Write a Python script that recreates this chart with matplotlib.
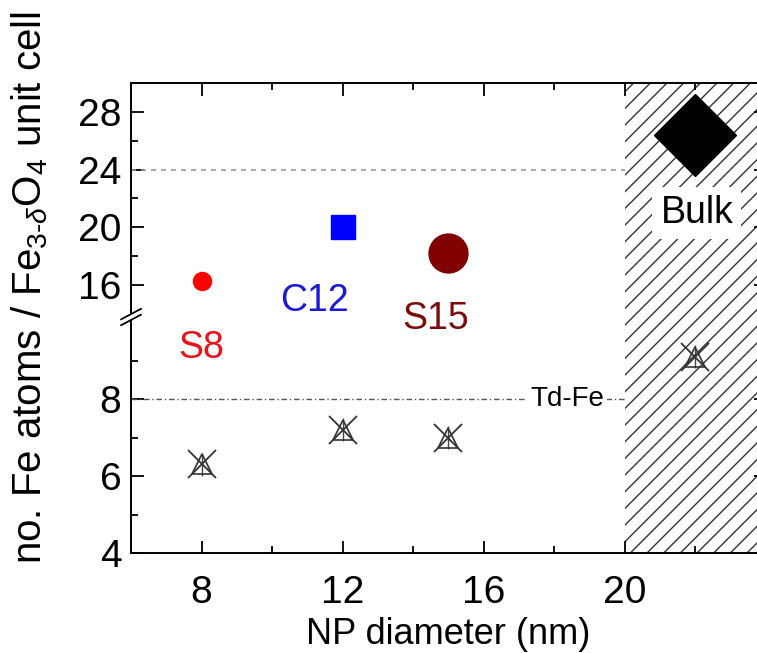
import matplotlib
matplotlib.use('Agg')
import matplotlib.pyplot as plt
from matplotlib.lines import Line2D
from matplotlib.patches import Polygon

plt.rcParams['font.family'] = ['Liberation Sans', 'DejaVu Sans']
plt.rcParams['mathtext.fontset'] = 'custom'
plt.rcParams['mathtext.rm'] = 'Liberation Sans'
plt.rcParams['mathtext.it'] = 'Liberation Sans:italic'
plt.rcParams['hatch.linewidth'] = 1.0

# total Fe per unit cell for each sample
samples = ['S8', 'C12', 'S15', 'Bulk']
diameter = [8, 12, 15, 22]
fe_total = [16.3, 20.0, 18.2, 26.4]

# tetrahedral Fe per unit cell (crossed triangles)
fe_td = [6.3, 7.2, 7.0, 9.1]
fe_td_err = [0.3, 0.3, 0.3, 0.3]

fe_stoich = 24   # Fe3O4 unit cell
td_stoich = 8    # tetrahedral sites
bulk_from = 20

# marker styles
colors = ['#ff0000', '#0000ff', '#800000', '#000000']
markers = ['o', 's', 'o', 'D']
msizes = [13, 17, 28, 42]
label_colors = ['#e8141c', '#1a1ad8', '#7a0c0c', 'black']

fig = plt.figure(figsize=(7.57, 6.53), dpi=100)
ax_hi = fig.add_axes([0.1731, 0.5145, 0.8382, 0.3584])
ax_lo = fig.add_axes([0.1731, 0.1531, 0.8382, 0.3614], sharex=ax_hi)

for ax in (ax_hi, ax_lo):
    ax.patch.set_visible(False)
    ax.axvspan(bulk_from, 24, facecolor='white', edgecolor='#333333',
               hatch='//', lw=0, zorder=0)
    ax.set_xlim(6, 24)
    ax.set_xticks([8, 12, 16, 20])
    ax.set_xticks([10, 14, 18, 22], minor=True)
    ax.tick_params(which='both', direction='in', labelsize=28, width=1.3,
                   right=True)
    ax.tick_params(axis='y', which='both', pad=7)
    ax.tick_params(which='major', length=9)
    ax.tick_params(which='minor', length=5)
    for s in ax.spines.values():
        s.set_linewidth(1.4)

# upper part: total Fe
ax_hi.set_ylim(13.78, 30)
ax_hi.set_yticks([16, 20, 24, 28])
ax_hi.set_yticks([18, 22, 26], minor=True)
ax_hi.tick_params(which='both', bottom=False, labelbottom=False, top=True)
ax_hi.spines['bottom'].set_visible(False)
ax_hi.plot([6, bulk_from], [fe_stoich, fe_stoich], ls=(0, (3, 3)),
           color='#999999', lw=1.2)
for x, y, c, m, s in zip(diameter, fe_total, colors, markers, msizes):
    ax_hi.plot(x, y, ls='none', marker=m, ms=s, color=c, mec=c, zorder=3)

# lower part: tetrahedral Fe
ax_lo.set_ylim(4, 10.13)
ax_lo.set_yticks([4, 6, 8])
ax_lo.set_yticks([5, 7, 9], minor=True)
ax_lo.tick_params(axis='x', which='both', top=False, pad=16)
ax_lo.spines['top'].set_visible(False)
ax_lo.plot([6, bulk_from], [td_stoich, td_stoich], ls=(0, (4, 2, 1, 2)),
           color='#555555', lw=1)
ax_lo.text(18.37, td_stoich, 'Td-Fe', fontsize=20, ha='center', va='center',
           bbox=dict(fc='white', ec='none', pad=2), zorder=2)
ax_lo.errorbar(diameter, fe_td, yerr=fe_td_err, fmt='none', ecolor='#444444',
               elinewidth=1, zorder=3)
ax_lo.plot(diameter, fe_td, ls='none', marker='^', ms=14, mfc='none',
           mec='#333333', mew=1.2, zorder=4)
ax_lo.plot(diameter, fe_td, ls='none', marker='x', ms=20, color='#333333',
           mew=1.3, zorder=4)

# sample names
ax_lo.text(8, 9.32, samples[0], color=label_colors[0], fontsize=27,
           ha='center', va='center')
ax_hi.text(11.2, 14.9, samples[1], color=label_colors[1], fontsize=27,
           ha='center', va='center')
ax_hi.text(14.65, 13.64, samples[2], color=label_colors[2], fontsize=27,
           ha='center', va='center', zorder=5)
ax_hi.text(22.05, 21.0, samples[3], color=label_colors[3], fontsize=27,
           ha='center', va='center', zorder=5,
           bbox=dict(fc='white', ec='none', pad=6))

ax_lo.set_xlabel('NP diameter (nm)', fontsize=26, labelpad=4)
fig.text(0.039, 0.56, r'no. Fe atoms / Fe$_{3\text{-}\delta}$O$_4$ unit cell',
         rotation=90, fontsize=29, ha='center', va='center')

# axis break on the left spine
xb, yb = 0.1731, 0.5145
dx, dy, gap = 0.013, 0.008, 0.0045
fig.add_artist(Polygon([[xb - 0.004, yb - gap - 0.002], [xb + 0.004, yb - gap + 0.003],
                        [xb + 0.004, yb + gap + 0.003], [xb - 0.004, yb + gap - 0.002]],
                       closed=True, fc='white', ec='none', transform=fig.transFigure,
                       zorder=10))
for off in (-gap, gap):
    fig.add_artist(Line2D([xb - dx, xb + dx], [yb + off - dy, yb + off + dy],
                          color='black', lw=1.3, transform=fig.transFigure,
                          zorder=11))

fig.savefig('out.png', dpi=100)
